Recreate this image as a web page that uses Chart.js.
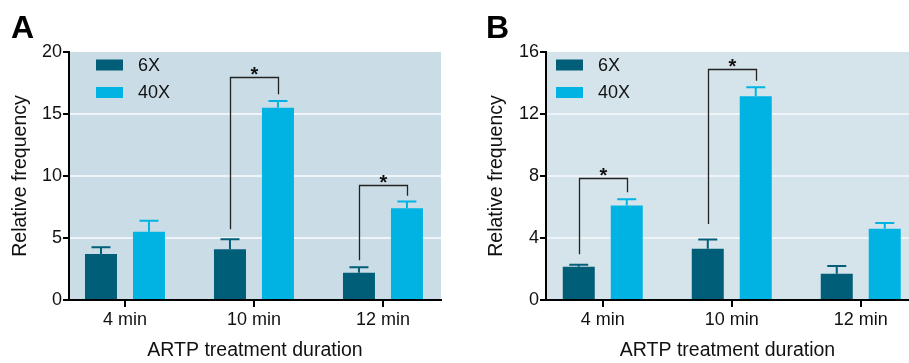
<!DOCTYPE html>
<html>
<head>
<meta charset="utf-8">
<script src="https://cdn.jsdelivr.net/npm/chart.js@4.4.1/dist/chart.umd.min.js"></script>
<style>
  body { margin: 0; background: #fff; }
  #wrapA { position: absolute; left: 0; top: 0; width: 455px; height: 363px; }
  #wrapB { position: absolute; left: 460px; top: 0; width: 449px; height: 363px; }
</style>
</head>
<body>
<div id="wrapA"><canvas id="chartA" width="455" height="363"></canvas></div>
<div id="wrapB"><canvas id="chartB" width="449" height="363"></canvas></div>
<script>
var durations = ['4 min', '10 min', '12 min'];
var seriesNames = ['6X', '40X'];

// panel A
var a6x = [3.7, 4.1, 2.2];
var a6xErr = [0.55, 0.8, 0.45];
var a40x = [5.5, 15.5, 7.4];
var a40xErr = [0.9, 0.55, 0.55];
// [category, left end, bracket top, right end]
var aSig = [[1, 5.7, 18.0, 16.6], [2, 3.2, 9.3, 8.4]];

// panel B
var b6x = [2.15, 3.3, 1.7];
var b6xErr = [0.13, 0.6, 0.5];
var b40x = [6.1, 13.15, 4.6];
var b40xErr = [0.4, 0.58, 0.37];
var bSig = [[0, 2.95, 7.85, 6.95], [1, 4.9, 14.9, 14.15]];

var DARK = '#005e78';
var LIGHT = '#00b3e2';

Chart.defaults.font.family = '"Liberation Sans", Arial, sans-serif';
Chart.defaults.color = '#111';

var extras = {
  id: 'extras',
  beforeDraw: function(chart, args, opts) {
    var a = chart.chartArea, ctx = chart.ctx;
    ctx.save();
    ctx.fillStyle = opts.bg;
    ctx.fillRect(a.left, a.top, a.right - a.left, a.bottom - a.top);
    ctx.restore();
  },
  afterDatasetsDraw: function(chart, args, opts) {
    var ctx = chart.ctx, y = chart.scales.y, a = chart.chartArea;
    ctx.save();
    // error bars (upper only)
    chart.data.datasets.forEach(function(ds, di) {
      var meta = chart.getDatasetMeta(di);
      ctx.strokeStyle = ds.backgroundColor;
      ctx.lineWidth = 2;
      meta.data.forEach(function(bar, i) {
        var top = y.getPixelForValue(ds.data[i].y + ds.err[i]);
        ctx.beginPath();
        ctx.moveTo(bar.x, bar.y);
        ctx.lineTo(bar.x, top);
        ctx.moveTo(bar.x - 9.5, top);
        ctx.lineTo(bar.x + 9.5, top);
        ctx.stroke();
      });
    });
    // significance brackets
    var m0 = chart.getDatasetMeta(0), m1 = chart.getDatasetMeta(1);
    ctx.strokeStyle = '#222';
    ctx.lineWidth = 1.3;
    ctx.fillStyle = '#111';
    ctx.font = 'bold 20px "Liberation Sans", Arial, sans-serif';
    ctx.textAlign = 'center';
    ctx.textBaseline = 'alphabetic';
    opts.sig.forEach(function(s) {
      var x1 = Math.round(m0.data[s[0]].x) + 0.5, x2 = Math.round(m1.data[s[0]].x) + 0.5;
      var yt = Math.round(y.getPixelForValue(s[2])) + 0.5;
      ctx.beginPath();
      ctx.moveTo(x1, y.getPixelForValue(s[1]));
      ctx.lineTo(x1, yt);
      ctx.lineTo(x2, yt);
      ctx.lineTo(x2, y.getPixelForValue(s[3]));
      ctx.stroke();
      ctx.fillText('*', (x1 + x2) / 2, yt + 3);
    });
    // legend
    var colors = [DARK, LIGHT];
    var boxY = [59.5, 87];
    ctx.font = '18px "Liberation Sans", Arial, sans-serif';
    ctx.textAlign = 'left';
    ctx.textBaseline = 'middle';
    seriesNames.forEach(function(n, i) {
      ctx.fillStyle = colors[i];
      ctx.fillRect(a.left + opts.legendX, boxY[i], 27, 11);
      ctx.fillStyle = '#111';
      ctx.fillText(n, a.left + opts.legendX + 42, boxY[i] + 6.5);
    });
    // panel letter
    ctx.font = 'bold 32px "Liberation Sans", Arial, sans-serif';
    ctx.textBaseline = 'alphabetic';
    ctx.fillStyle = '#000';
    ctx.fillText(opts.letter, opts.letterX, 38);
    ctx.restore();
  }
};

function makeChart(id, v6, e6, v40, e40, sig, cfg) {
  new Chart(document.getElementById(id), {
    type: 'bar',
    data: {
      datasets: [{
        label: seriesNames[0],
        data: v6.map(function(v, i) { return {x: i, y: v}; }),
        err: e6,
        backgroundColor: DARK,
        borderWidth: 0
      }, {
        label: seriesNames[1],
        data: v40.map(function(v, i) { return {x: i, y: v}; }),
        err: e40,
        backgroundColor: LIGHT,
        borderWidth: 0
      }]
    },
    options: {
      responsive: false,
      animation: false,
      events: [],
      devicePixelRatio: 1,
      categoryPercentage: 0.744,
      barPercentage: 0.667,
      layout: { padding: { top: 52, right: cfg.padRight, left: 0, bottom: 0 } },
      plugins: {
        legend: { display: false },
        tooltip: { enabled: false },
        extras: { bg: cfg.bg, sig: sig, legendX: cfg.legendX, letter: cfg.letter, letterX: cfg.letterX }
      },
      scales: {
        x: {
          type: 'linear',
          min: cfg.xMin,
          max: cfg.xMax,
          offset: false,
          afterBuildTicks: function(s) {
            s.ticks = durations.map(function(d, i) { return {value: i}; });
          },
          afterFit: function(s) { s.height = 63; },
          ticks: {
            callback: function(v) { return durations[v]; },
            font: { size: 18 },
            color: '#111',
            padding: 2,
            maxRotation: 0,
            autoSkip: false
          },
          grid: { offset: false, drawOnChartArea: false, tickLength: 7, tickColor: '#000', lineWidth: 2 },
          border: { color: '#000', width: 2 },
          title: {
            display: true,
            text: 'ARTP treatment duration',
            font: { size: 19.5 },
            color: '#111',
            padding: { top: 0, bottom: 1 }
          }
        },
        y: {
          min: 0,
          max: cfg.yMax,
          afterFit: function(s) { s.width = cfg.yWidth; },
          ticks: { stepSize: cfg.yStep, font: { size: 18 }, color: '#111', padding: 1 },
          grid: {
            color: function(c) {
              return (c.tick && c.tick.value > 0 && c.tick.value < cfg.yMax) ? '#eef4f7' : 'rgba(0,0,0,0)';
            },
            tickColor: '#000',
            tickLength: 6,
            lineWidth: 2
          },
          border: { color: '#000', width: 2 },
          title: {
            display: true,
            text: 'Relative frequency',
            font: { size: 19.5 },
            color: '#111',
            padding: { top: cfg.yTitlePad, bottom: 0 }
          }
        }
      }
    },
    plugins: [extras]
  });
}

document.addEventListener('DOMContentLoaded', function() {
  makeChart('chartA', a6x, a6xErr, a40x, a40xErr, aSig, {
    bg: '#cadde6', padRight: 14, yWidth: 69, yMax: 20, yStep: 5,
    xMin: -0.434, xMax: 2.45, yTitlePad: 9, legendX: 27, letter: 'A', letterX: 11
  });
  makeChart('chartB', b6x, b6xErr, b40x, b40xErr, bSig, {
    bg: '#d5e4ea', padRight: 0, yWidth: 86, yMax: 16, yStep: 4,
    xMin: -0.44, xMax: 2.374, yTitlePad: 25, legendX: 10, letter: 'B', letterX: 26
  });
});
</script>
</body>
</html>
